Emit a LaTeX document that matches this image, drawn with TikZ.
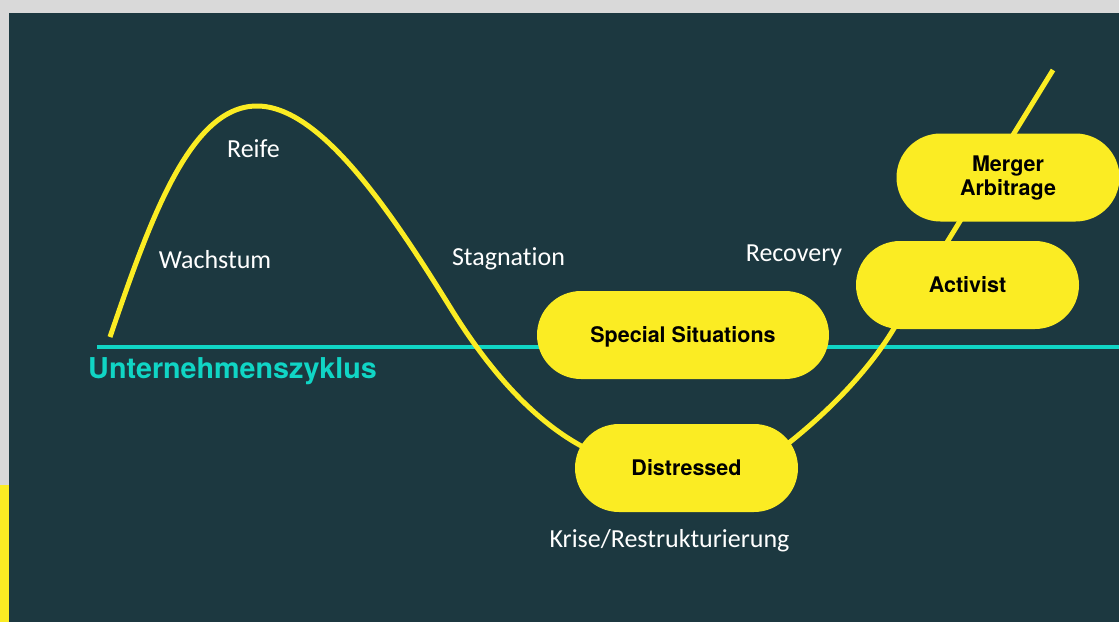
\documentclass[tikz,border=0pt]{standalone}
\usepackage{fontspec}
\setmainfont{Carlito}[Ligatures=NoCommon]
\newfontfamily\pillfont{TeX Gyre Heros}
\usetikzlibrary{calc}
\definecolor{darkteal}{RGB}{28,56,64}
\definecolor{cycleyellow}{RGB}{251,236,35}
\definecolor{cyclecyan}{RGB}{16,213,197}
\definecolor{framegray}{RGB}{217,217,217}
\tikzset{
  pill/.style={fill=cycleyellow, rounded corners=44, minimum height=88, inner sep=0, text=black, font=\pillfont\bfseries\fontsize{21.5}{24}\selectfont, align=center},
  oneline/.style={text height=15, text depth=0},
  phase/.style={text=white, anchor=base, inner sep=0, font=\fontsize{26}{30}\selectfont}
}
\begin{document}
\begin{tikzpicture}[x=1pt, y=-1pt]
\useasboundingbox (0,0) rectangle (1119,622);
\fill[framegray] (0,0) rectangle (1119,622);
\fill[darkteal] (9,13) rectangle (1119,622);
\fill[cycleyellow] (0,485) rectangle (9,622);

\coordinate (O) at (97,347);
\coordinate (E) at (1119,347);
\draw[cyclecyan, line width=3.5] (O) -- (E);
\node[anchor=base west, inner sep=0, text=cyclecyan, font=\pillfont\bfseries\fontsize{28.7}{32}\selectfont] (zyklus) at (88,378) {Unternehmenszyklus};

\coordinate (start) at (110,337);
\coordinate (peak) at (257,106);
\coordinate (down) at (450,307);
\coordinate (low) at (600,455);
\coordinate (up) at (790,442);
\coordinate (turn) at (893,330);
\coordinate (top) at (1053,70);
\draw[cycleyellow, line width=5] (start) .. controls (150,220) and (190,106) .. (peak)
  .. controls (320,106) and (390,210) .. (down)
  .. controls (490,372) and (540,430) .. (low)
  .. controls (650,475) and (740,480) .. (up)
  .. controls (830,410) and (868,371) .. (turn) -- (top);

\node[pill, oneline, minimum width=292] (special) at (683,335) {Special Situations};
\node[pill, oneline, minimum width=223] (distressed) at (686.5,468) {Distressed};
\node[pill, oneline, minimum width=223] (activist) at (967.5,285) {Activist};
\node[pill, minimum width=223] (merger) at (1008,177.5) {};
\node[pill, fill=none, minimum height=0, anchor=base] (mergertext) at (1008,195) {Merger\\Arbitrage};

\node[phase] (reife) at (253.5,157) {Reife};
\node[phase] (wachstum) at (215,268) {Wachstum};
\node[phase] (stagnation) at (508.5,265) {Stagnation};
\node[phase] (recovery) at (794,261) {Recovery};
\node[phase] (krise) at (669.5,547) {Krise/Restrukturierung};
\end{tikzpicture}
\end{document}
